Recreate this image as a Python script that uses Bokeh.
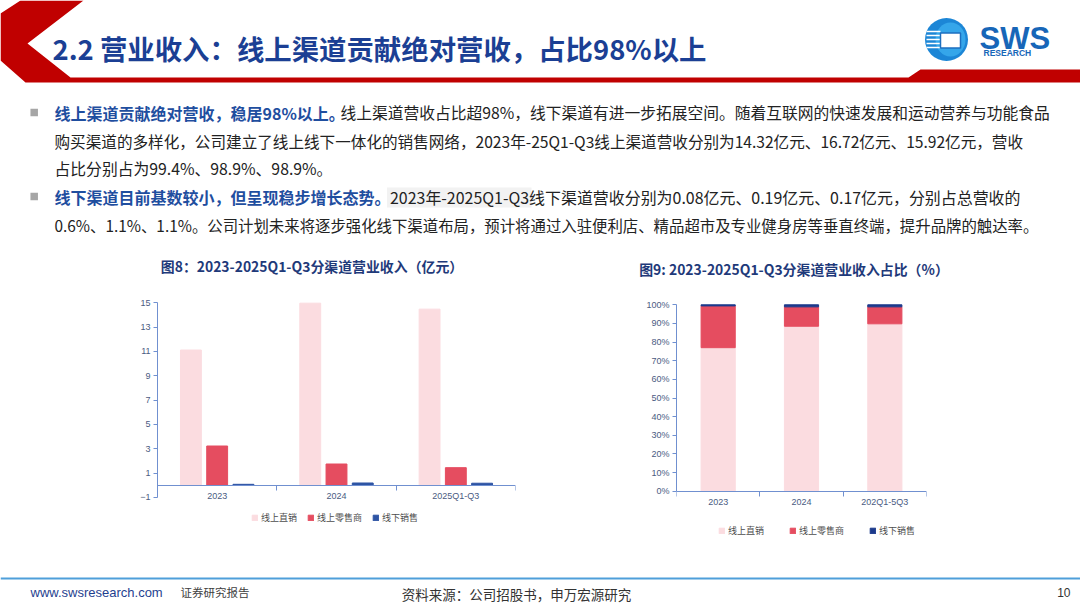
from bokeh.plotting import figure
from bokeh.layouts import column, row
from bokeh.models import (Range1d, FixedTicker, Legend, LegendItem, ColumnDataSource,
                          PrintfTickFormatter)
from bokeh.transform import dodge
from bokeh.core.properties import value
from bokeh.embed import file_html
from bokeh.resources import INLINE

# ---------------- data ----------------
categories_left = ["2023", "2024", "2025Q1-Q3"]
categories_right = ["2023", "2024", "202Q1-5Q3"]
series_names = ["线上直销", "线上零售商", "线下销售"]
rev_direct = [11.12, 14.97, 14.48]
rev_retail = [3.23, 1.75, 1.45]
rev_offline = [0.08, 0.19, 0.17]
pct_direct = [77.0, 88.5, 89.8]
pct_retail = [22.4, 10.4, 9.1]
pct_offline = [0.6, 1.1, 1.1]
left_yticks = [-1, 1, 3, 5, 7, 9, 11, 13, 15]
right_yticks = [0, 10, 20, 30, 40, 50, 60, 70, 80, 90, 100]

title_main = "2.2 营业收入：线上渠道贡献绝对营收，占比98%以上"
title_left = "图8：2023-2025Q1-Q3分渠道营业收入（亿元）"
title_right = "图9: 2023-2025Q1-Q3分渠道营业收入占比（%）"
body_lines = [
    ("线上渠道贡献绝对营收，稳居98%以上。",
     "线上渠道营收占比超98%，线下渠道有进一步拓展空间。随着互联网的快速发展和运动营养与功能食品"),
    ("", "购买渠道的多样化，公司建立了线上线下一体化的销售网络，2023年-25Q1-Q3线上渠道营收分别为14.32亿元、16.72亿元、15.92亿元，营收"),
    ("", "占比分别占为99.4%、98.9%、98.9%。"),
    ("线下渠道目前基数较小，但呈现稳步增长态势。",
     "2023年-2025Q1-Q3线下渠道营收分别为0.08亿元、0.19亿元、0.17亿元，分别占总营收的"),
    ("", "0.6%、1.1%、1.1%。公司计划未来将逐步强化线下渠道布局，预计将通过入驻便利店、精品超市及专业健身房等垂直终端，提升品牌的触达率。"),
]
footer_url = "www.swsresearch.com"
footer_tag = "证券研究报告"
footer_src = "资料来源：公司招股书，申万宏源研究"
page_no = "10"

# ---------------- styles ----------------
CJK_NAME = "Noto Sans CJK SC"
LAT_NAME = "Liberation Sans"
CJK = value(CJK_NAME)
LAT = value(LAT_NAME)
RED = "#C00000"
PINK = "#FBDCE0"
BARRED = "#E54D60"
BLUE_L = "#2E54A4"
NAVY = "#1C3A8C"
AX = "#7090D0"
TICK_TXT = "#4A5B82"
TITLE_BLUE = "#1B3F94"
CHART_TITLE = "#1F3A7A"
BOLD_BLUE = "#1F4E9F"

W = 1080


def blank(width, height, y0, y1):
    f = figure(width=width, height=height, x_range=Range1d(0, width),
               y_range=Range1d(y1, y0), output_backend="svg", toolbar_location=None,
               x_axis_location=None, y_axis_location=None, min_border=0,
               outline_line_color=None)
    f.grid.visible = False
    f.title.visible = False
    return f


# ---------------- header + text ----------------
top = blank(W, 285, 0, 285)
top.patch([20, 83, 27, 70, 908, 920, 1080, 1080, 25, 0, 0],
          [0, 0, 43, 77, 77, 69, 69, 82, 82, 60, 13], color=RED, line_color=None)
top.text(x=[52], y=[47], text=[title_main], text_font=CJK, text_font_size="27.4px",
         text_font_style="bold", text_color=TITLE_BLUE, text_baseline="middle")

# logo
top.ellipse(x=[946], y=[39], width=43, height=43, fill_color="#1C86D6", line_color=None)
top.ellipse(x=[950], y=[39], width=30, height=34, fill_color="#35A6EA", line_color=None)
top.rect(x=[933, 933, 933, 933, 933], y=[31, 35, 39, 43, 47], width=14, height=1.6,
         fill_color="white", line_color=None)
top.rect(x=[950], y=[40], width=20, height=15, fill_color="white", line_color="#1C6FC0",
         line_width=1.5)
top.text(x=[979], y=[38], text=["SWS"], text_font=LAT, text_font_size="31px",
         text_font_style="bold", text_color="#1766B8", text_baseline="middle")
top.text(x=[983], y=[52], text=["RESEARCH"], text_font=LAT, text_font_size="8.5px",
         text_font_style="bold", text_color="#1766B8", text_baseline="middle")

# bullets and text
line_y = [112, 140.5, 167.5, 196, 224]
normal_x = [340, 54, 54, 389.5, 54]
line_fs = ["15.75px", "15.6px", "15.8px", "15.95px", "15.4px"]
top.quad(left=[386.5], right=[531], top=[187], bottom=[207], fill_color="#F2F2F2",
         line_color=None)
for (b, n), y, nx, fs in zip(body_lines, line_y, normal_x, line_fs):
    if b:
        top.rect(x=[33.7], y=[y], width=7.5, height=7.5, fill_color="#A6A6A6", line_color=None)
        top.text(x=[54], y=[y], text=[b], text_font=CJK, text_font_size="16px",
                 text_font_style="bold", text_color=BOLD_BLUE, text_baseline="middle")
    top.text(x=[nx], y=[y], text=[n], text_font=CJK, text_font_size=fs,
             text_color="#222222", text_baseline="middle")

top.text(x=[311.5], y=[265], text=[title_left], text_font=CJK, text_font_size="13.9px",
         text_font_style="bold", text_color=CHART_TITLE, text_baseline="middle",
         text_align="center")
top.text(x=[793.5], y=[268], text=[title_right], text_font=CJK, text_font_size="13.9px",
         text_font_style="bold", text_color=CHART_TITLE, text_baseline="middle",
         text_align="center")


def style_axes(p, yticks, ymin, ymax):
    p.grid.visible = False
    p.outline_line_color = None
    p.title.visible = False
    ya = p.yaxis[0]
    ya.ticker = FixedTicker(ticks=yticks)
    ya.bounds = (ymin, ymax)
    ya.axis_line_color = AX
    ya.major_tick_line_color = AX
    ya.major_tick_in = 0
    ya.major_tick_out = 4
    ya.minor_tick_line_color = None
    ya.major_label_text_font = LAT_NAME
    ya.major_label_text_font_size = "9px"
    ya.major_label_text_color = TICK_TXT
    ya.major_label_standoff = 3
    xa = p.xaxis[0]
    xa.fixed_location = 0
    xa.ticker = FixedTicker(ticks=[0.5, 1.5, 2.5], minor_ticks=[0, 1, 2, 3])
    xa.axis_line_color = AX
    xa.major_tick_line_color = None
    xa.major_tick_in = 0
    xa.major_tick_out = 5
    xa.minor_tick_line_color = AX
    xa.minor_tick_in = 0
    xa.minor_tick_out = 5
    xa.major_label_text_font = LAT_NAME
    xa.major_label_text_font_size = "9px"
    xa.major_label_text_color = TICK_TXT
    xa.major_label_standoff = 1


def make_legend(renderers, loc, spacing):
    return Legend(items=[LegendItem(label=n, renderers=[r]) for n, r in zip(series_names, renderers)],
                  orientation="horizontal", location=loc, glyph_width=7, glyph_height=7,
                  label_standoff=3, spacing=spacing, padding=0, margin=0,
                  border_line_color=None, background_fill_alpha=0,
                  label_text_font=CJK_NAME, label_text_font_size="9px", label_height=11,
                  label_width=10, label_text_color="#4D4D4D")


# ---------------- left chart (page x 0..560, y 285..570) ----------------
ppu_l = (484.8 - 302.3) / 15.0
yl1 = 15 + (302.3 - 285) / ppu_l
yl0 = -(570 - 484.8) / ppu_l
lc = figure(width=560, height=285, x_range=Range1d(0, 3), y_range=Range1d(yl0, yl1),
            output_backend="svg", toolbar_location=None, min_border_left=157,
            min_border_right=45, min_border_top=0, min_border_bottom=0)
style_axes(lc, left_yticks, -1, 15)
lc.xaxis[0].major_label_overrides = {i + 0.5: c for i, c in enumerate(categories_left)}
lsrc = ColumnDataSource(dict(x=[i + 0.5 for i in range(len(categories_left))],
                             direct=rev_direct, retail=rev_retail, offline=rev_offline))
bw = 0.175
r1 = lc.vbar(x=dodge("x", -0.22), top="direct", width=bw, color=PINK, source=lsrc)
r2 = lc.vbar(x=dodge("x", 0.0), top="retail", width=bw, color=BARRED, source=lsrc)
r3 = lc.vbar(x=dodge("x", 0.22), top="offline", width=bw, color=BLUE_L, source=lsrc)
lc.add_layout(make_legend([r1, r2, r3], (94, 46), 10))

# ---------------- right chart (page x 560..1080) ----------------
ppu_r = (490.7 - 304.3) / 100.0
yr1 = 100 + (304.3 - 285) / ppu_r
yr0 = -(570 - 490.7) / ppu_r
rc = figure(width=520, height=285, x_range=Range1d(0, 3), y_range=Range1d(yr0, yr1),
            output_backend="svg", toolbar_location=None, min_border_left=116,
            min_border_right=154, min_border_top=0, min_border_bottom=0)
style_axes(rc, right_yticks, 0, 100)
rc.yaxis[0].formatter = PrintfTickFormatter(format="%d%%")
rc.xaxis[0].major_label_overrides = {i + 0.5: c for i, c in enumerate(categories_right)}
rsrc = ColumnDataSource(dict(x=[i + 0.5 for i in range(len(categories_right))],
                             direct=pct_direct, retail=pct_retail, offline=pct_offline))
rs = rc.vbar_stack(["direct", "retail", "offline"], x="x", width=0.41,
                   color=[PINK, BARRED, NAVY], source=rsrc)
rc.add_layout(make_legend(rs, (42, 33), 25))

# ---------------- footer (page y 570..608) ----------------
foot = blank(W, 38, 570, 608)
foot.segment(x0=[0], y0=[578], x1=[1080], y1=[578], line_color="#4F9FDA", line_width=2)
foot.text(x=[30], y=[592], text=[footer_url], text_font=LAT, text_font_size="13px",
          text_color="#1F3F8F", text_baseline="middle")
foot.text(x=[180], y=[591], text=[footer_tag], text_font=CJK, text_font_size="11.5px",
          text_color="#404040", text_baseline="middle")
foot.text(x=[516], y=[593], text=[footer_src], text_font=CJK, text_font_size="13.5px",
          text_color="#333333", text_baseline="middle", text_align="center")
foot.text(x=[1070], y=[592], text=[page_no], text_font=LAT, text_font_size="12px",
          text_color="#333333", text_baseline="middle", text_align="right")

p = column(top, row(lc, rc), foot)
open("out.html", "w").write(file_html(p, INLINE))
